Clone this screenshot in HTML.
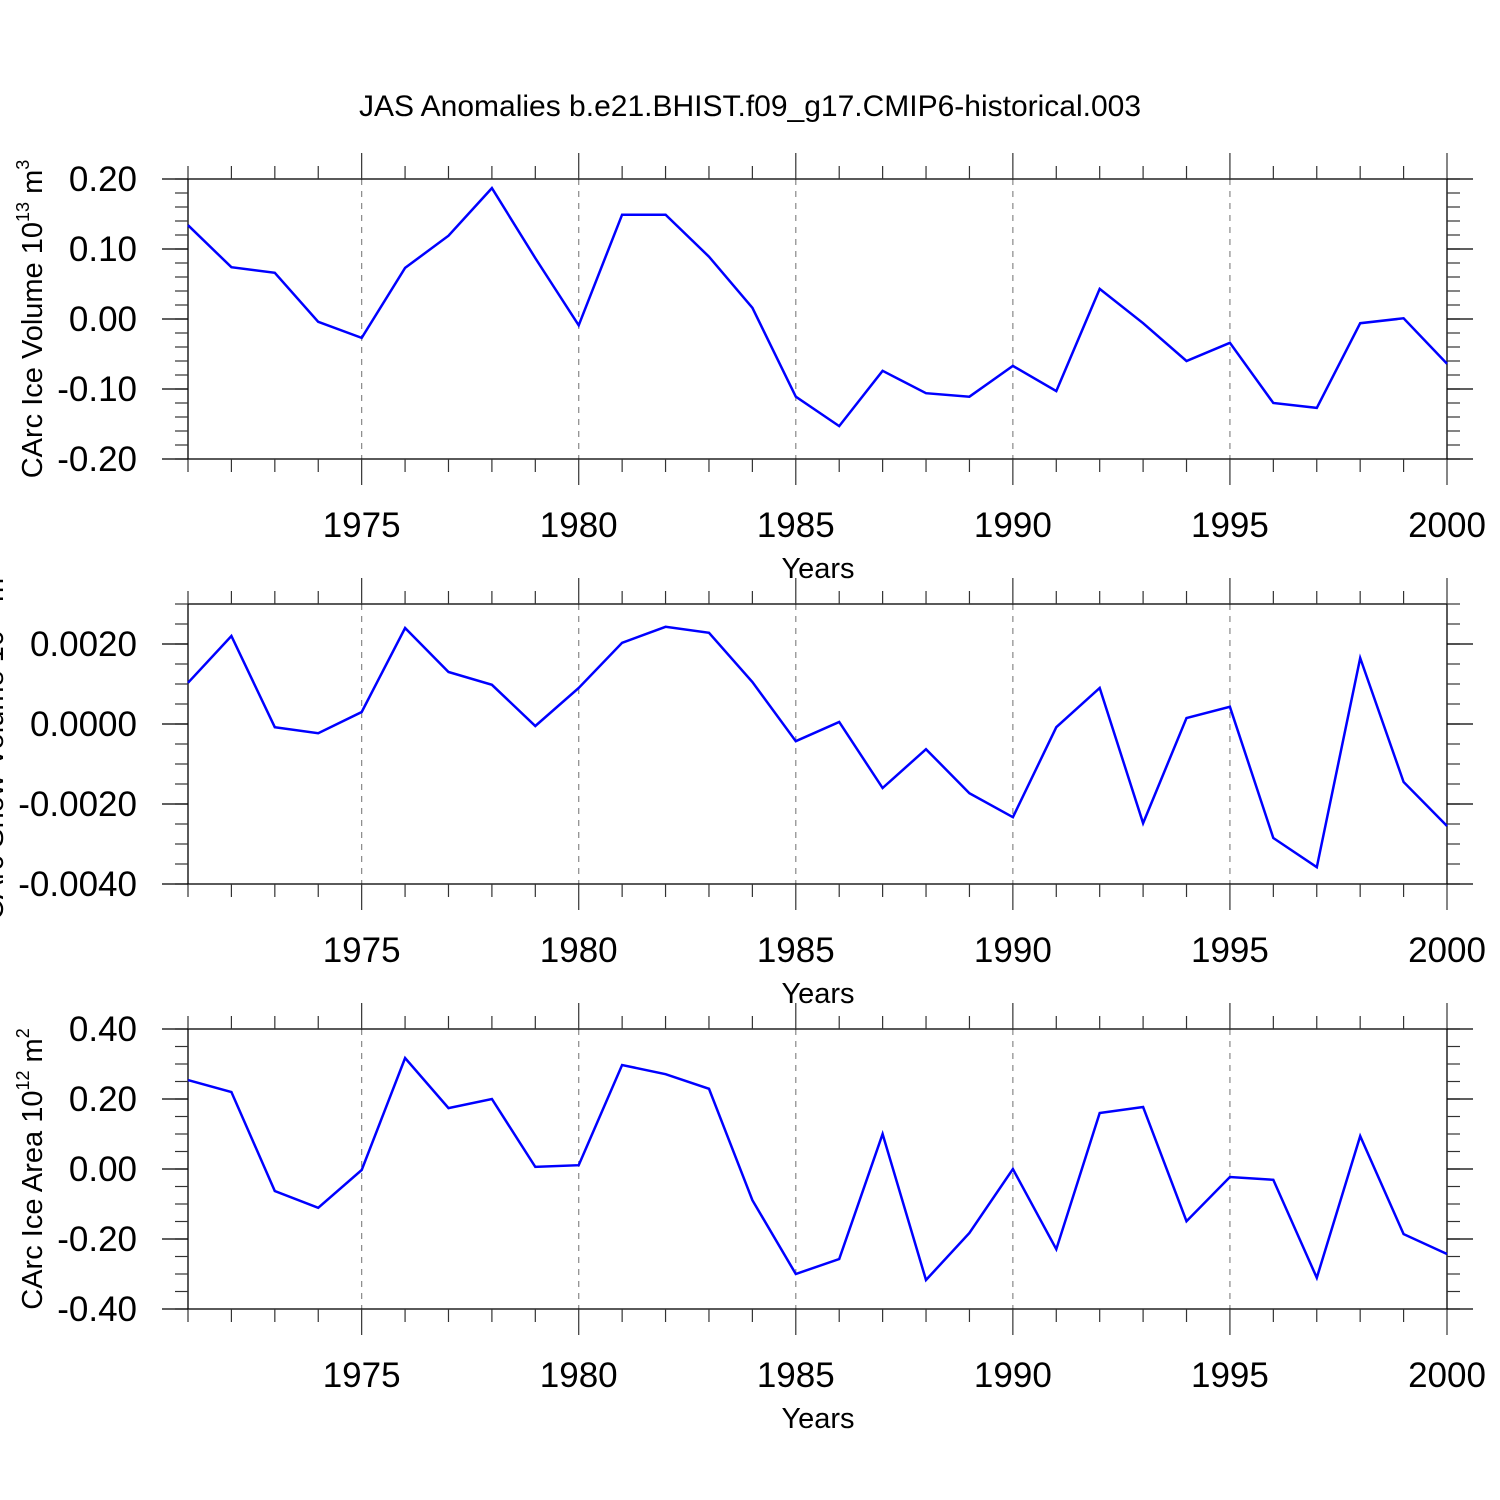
<!DOCTYPE html>
<html><head><meta charset="utf-8"><style>
html,body{margin:0;padding:0;background:#fff;}
svg{display:block;font-family:"Liberation Sans",sans-serif;}
</style></head><body>
<svg id="chart" width="1500" height="1500" viewBox="0 0 1500 1500" xmlns="http://www.w3.org/2000/svg">
<rect width="1500" height="1500" fill="#fff"/>
<text x="750" y="116" font-size="30" text-anchor="middle">JAS Anomalies b.e21.BHIST.f09_g17.CMIP6-historical.003</text>
</svg>
<script>
const years = [1971,1972,1973,1974,1975,1976,1977,1978,1979,1980,1981,1982,1983,1984,1985,1986,1987,1988,1989,1990,1991,1992,1993,1994,1995,1996,1997,1998,1999,2000];
const iceVolume = [0.134,0.074,0.066,-0.004,-0.027,0.073,0.119,0.187,0.087,-0.009,0.149,0.149,0.089,0.016,-0.111,-0.153,-0.074,-0.106,-0.111,-0.067,-0.103,0.043,-0.006,-0.060,-0.034,-0.120,-0.127,-0.006,0.001,-0.064];
const snowVolume = [0.00103,0.0022,-0.00008,-0.00023,0.0003,0.0024,0.0013,0.00098,-0.00005,0.0009,0.00203,0.00243,0.00228,0.00105,-0.00043,0.00005,-0.0016,-0.00063,-0.00173,-0.00233,-0.00008,0.0009,-0.00248,0.00015,0.00043,-0.00285,-0.00358,0.00165,-0.00145,-0.00255];
const iceArea = [0.254,0.22,-0.063,-0.111,-0.003,0.317,0.174,0.2,0.006,0.011,0.297,0.271,0.229,-0.089,-0.3,-0.257,0.1,-0.317,-0.183,0,-0.229,0.16,0.177,-0.149,-0.023,-0.031,-0.311,0.094,-0.186,-0.243];
const xTickYears = [1975,1980,1985,1990,1995,2000];
const vTicks = [0.20,0.10,0.00,-0.10,-0.20];
const vTickLabels = ["0.20","0.10","0.00","-0.10","-0.20"];
const sTicks = [0.002,0,-0.002,-0.004];
const sTickLabels = ["0.0020","0.0000","-0.0020","-0.0040"];
const aTicks = [0.4,0.2,0,-0.2,-0.4];
const aTickLabels = ["0.40","0.20","0.00","-0.20","-0.40"];

const NS="http://www.w3.org/2000/svg";
const svg=document.getElementById('chart');
const X0=188,X1=1447,Y0YR=1971,Y1YR=2000;
const xs=y=>X0+(y-Y0YR)*(X1-X0)/(Y1YR-Y0YR);
function el(tag,attrs,parent){const e=document.createElementNS(NS,tag);for(const k in attrs)e.setAttribute(k,attrs[k]);(parent||svg).appendChild(e);return e;}

function panel(name,top,ymin,ymax,minorStep,ticks,labels,data,titleMain,titleSup,titleUnit,titleX){
  const bot=top+280;
  const g=el('g',{});
  
  
  const ys=v=>bot-(v-ymin)*(bot-top)/(ymax-ymin);
  xTickYears.forEach(yr=>{
    if(yr===2000)return;
    const l=el('line',{x1:xs(yr),x2:xs(yr),y1:top,y2:bot,stroke:'#888','stroke-width':1.2,'stroke-dasharray':'6,6'},g);
    
    
  });
  const box=el('rect',{x:X0,y:top,width:X1-X0,height:bot-top,fill:'none',stroke:'#000','stroke-width':1.3},g);
  
  
  years.forEach(yr=>{
    const major=xTickYears.includes(yr);
    const len=major?26:13;
    const x=xs(yr);
    el('line',{x1:x,x2:x,y1:top,y2:top-len,stroke:'#333','stroke-width':1.2},g);
    el('line',{x1:x,x2:x,y1:bot,y2:bot+len,stroke:'#333','stroke-width':1.2},g);
  });
  xTickYears.forEach(yr=>{
    const t=el('text',{x:xs(yr),y:bot+78,'font-size':35,'text-anchor':'middle'},g);
    
    
    t.textContent=yr;
  });
  const xt=el('text',{x:818,y:bot+119,'font-size':29,'text-anchor':'middle'},g);
  
  
  xt.textContent='Years';
  const n=Math.round((ymax-ymin)/minorStep);
  for(let i=0;i<=n;i++){
    const y=ys(ymin+i*minorStep);
    el('line',{x1:X0,x2:X0-13,y1:y,y2:y,stroke:'#333','stroke-width':1.2},g);
    el('line',{x1:X1,x2:X1+13,y1:y,y2:y,stroke:'#333','stroke-width':1.2},g);
  }
  ticks.forEach((v,i)=>{
    const y=ys(v);
    el('line',{x1:X0,x2:X0-26,y1:y,y2:y,stroke:'#000','stroke-width':1.3},g);
    el('line',{x1:X1,x2:X1+26,y1:y,y2:y,stroke:'#000','stroke-width':1.3},g);
    const t=el('text',{x:137,y:y+12,'font-size':35,'text-anchor':'end'},g);
    
    
    t.textContent=labels[i];
  });
  const cy=(top+bot)/2;
  const tt=el('text',{x:0,y:0,'font-size':29,'text-anchor':'middle',transform:`translate(${titleX},${cy}) rotate(-90)`},g);
  
  
  const s1=el('tspan',{},tt);s1.textContent=titleMain;
  const s2=el('tspan',{dy:-13,'font-size':18},tt);s2.textContent=titleSup;
  const s3=el('tspan',{dy:13},tt);s3.textContent=titleUnit[0];
  const s4=el('tspan',{dy:-13,'font-size':18},tt);s4.textContent=titleUnit[1];
  const pts=data.map((v,i)=>xs(years[i]).toFixed(1)+','+ys(v).toFixed(1)).join(' ');
  const pl=el('polyline',{points:pts,fill:'none',stroke:'#0000ff','stroke-width':2.5,'stroke-linejoin':'miter'},g);
  
  
}
panel('ice-volume',179,-0.2,0.2,0.02,vTicks,vTickLabels,iceVolume,'CArc Ice Volume 10','13',[' m','3'],42);
panel('snow-volume',604,-0.004,0.003,0.0005,sTicks,sTickLabels,snowVolume,'CArc Snow Volume 10','13',[' m','3'],3);
panel('ice-area',1029,-0.4,0.4,0.05,aTicks,aTickLabels,iceArea,'CArc Ice Area 10','12',[' m','2'],42);
</script>
</body></html>
